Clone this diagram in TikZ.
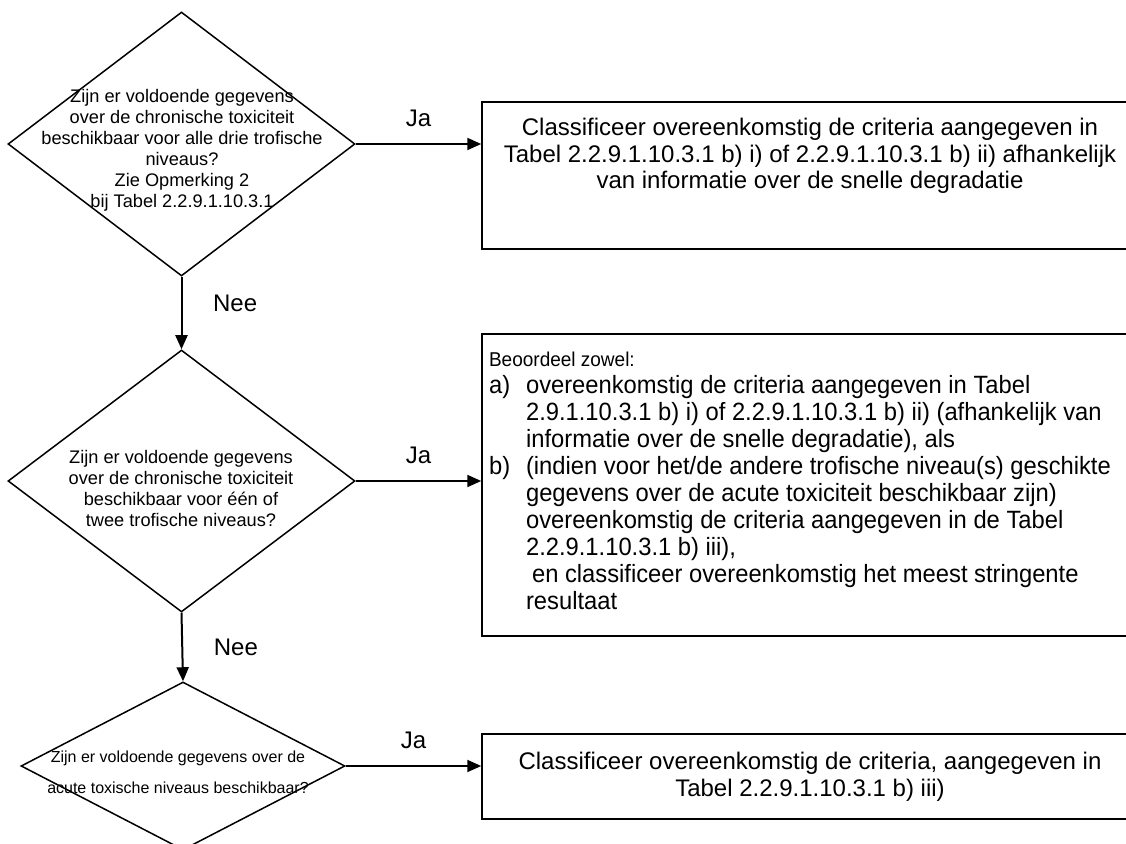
\documentclass[tikz,border=0pt]{standalone}
\usepackage{fontspec}
\setmainfont{Liberation Sans}
\newfontfamily\narrowfont{Liberation Sans}[FakeStretch=0.95]
\usetikzlibrary{shapes.geometric}
\usetikzlibrary{arrows.meta}
\usetikzlibrary{positioning}

\begin{document}
\begin{tikzpicture}[x=0.5pt, y=-0.5pt,
    question/.style={draw, diamond, line width=0.75pt, inner sep=0pt},
    outcome/.style={draw, rectangle, line width=0.75pt, inner sep=0pt, minimum width=328pt},
    flow/.style={-{Triangle[length=7pt, width=6pt]}, line width=1pt},
    qtext/.style={align=center, font=\fontsize{9.1}{10.5}\selectfont},
    answer/.style={font=\fontsize{12}{14}\selectfont}]
    \useasboundingbox (0,0) rectangle (1126,844);
    \clip (0,0) rectangle (1126,844);

    % questions
    \node[question, minimum width=173.5pt, minimum height=132pt] (q1) at (181.5,144) {};
    \node[qtext] (q1txt) at (182,150) {Zijn er voldoende gegevens\\ over de chronische toxiciteit\\ beschikbaar voor alle drie trofische\\ niveaus?\\ Zie Opmerking 2\\ bij Tabel 2.2.9.1.10.3.1};
    \node[question, minimum width=173.5pt, minimum height=131pt] (q2) at (181.5,481) {};
    \node[qtext] (q2txt) at (181,488) {Zijn er voldoende gegevens\\ over de chronische toxiciteit\\ beschikbaar voor één of\\ twee trofische niveaus?};
    \node[question, minimum width=162pt, minimum height=84pt] (q3) at (183,766) {};
    \node[align=center, font=\fontsize{8}{15.5}\selectfont] (q3txt) at (178,772) {Zijn er voldoende gegevens over de\\ acute toxische niveaus beschikbaar?};

    % outcomes
    \node[outcome, minimum height=73.5pt] (r1) at (810,175.5) {};
    \node[align=center, font=\fontsize{12}{13.3}\selectfont] (r1txt) at (810,156) {Classificeer overeenkomstig de criteria aangegeven in\\ Tabel 2.2.9.1.10.3.1 b) i) of 2.2.9.1.10.3.1 b) ii) afhankelijk\\ van informatie over de snelle degradatie};
    \node[outcome, minimum height=151pt] (r2) at (810,485) {};
    \node[anchor=west, align=left, font=\narrowfont\fontsize{12.5}{13.5}\selectfont] (r2txt) at (482,481) {{\fontsize{10}{12}\selectfont Beoordeel zowel:}\\
        \makebox[18.5pt][l]{a)}overeenkomstig de criteria aangegeven in Tabel\\
        \hspace*{18.5pt}2.9.1.10.3.1 b) i) of 2.2.9.1.10.3.1 b) ii) (afhankelijk van\\
        \hspace*{18.5pt}informatie over de snelle degradatie), als\\
        \makebox[18.5pt][l]{b)}(indien voor het/de andere trofische niveau(s) geschikte\\
        \hspace*{18.5pt}gegevens over de acute toxiciteit beschikbaar zijn)\\
        \hspace*{18.5pt}overeenkomstig de criteria aangegeven in de Tabel\\
        \hspace*{18.5pt}2.2.9.1.10.3.1 b) iii),\\
        \hspace*{21.5pt}en classificeer overeenkomstig het meest stringente\\
        \hspace*{18.5pt}resultaat};
    \node[outcome, minimum height=42.5pt, align=center, font=\fontsize{12}{13.3}\selectfont] (r3) at (810,776.5) {Classificeer overeenkomstig de criteria, aangegeven in\\ Tabel 2.2.9.1.10.3.1 b) iii)};

    % connectors
    \draw[flow] (q1.east) -- (q1.east -| r1.west) node[answer, midway, above=5pt] {Ja};
    \draw[flow] (q2.east) -- (q2.east -| r2.west) node[answer, midway, above=5pt] {Ja};
    \draw[flow] (q3.east) -- (q3.east -| r3.west) node[answer, midway, above=5pt] {Ja};
    \draw[flow] (q1.south) -- (q2.north) node[answer, midway, right=12pt, yshift=5pt] {Nee};
    \draw[flow] (q2.south) -- (q3.north) node[answer, midway, right=12pt] {Nee};
\end{tikzpicture}
\end{document}
